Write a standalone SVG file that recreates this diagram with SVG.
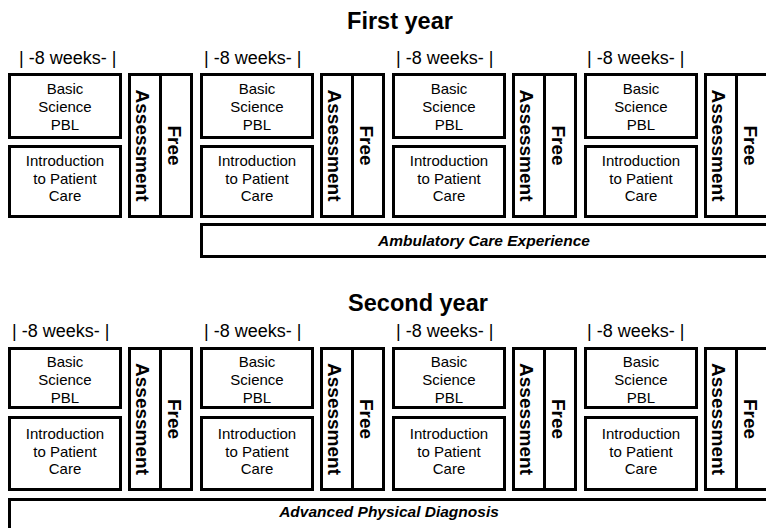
<svg xmlns="http://www.w3.org/2000/svg" width="766" height="528" viewBox="0 0 766 528">
<style>
.box{fill:#fff;stroke:#000;stroke-width:3}
.t{font-family:"Liberation Sans",Arial,Helvetica,sans-serif;fill:#000}
.c{font-size:15px;text-anchor:middle}
.v{font-size:19px;font-weight:bold;text-anchor:middle}
.wk{font-size:18px}
.title{font-size:23.5px;font-weight:bold;text-anchor:middle}
.bar{font-size:15.5px;font-weight:bold;font-style:italic;text-anchor:middle}
</style>
<rect width="766" height="528" fill="#fff"/>
<defs>
<g id="col1">
<g><rect class="box" x="9.5" y="74.5" width="111" height="63"/>
<text class="t c" x="65" y="94">Basic</text><text class="t c" x="65" y="112">Science</text><text class="t c" x="65" y="130">PBL</text></g>
<g><rect class="box" x="9.5" y="146.5" width="111" height="70"/>
<text class="t c" x="65" y="166">Introduction</text><text class="t c" x="65" y="183.5">to Patient</text><text class="t c" x="65" y="201">Care</text></g>
<g><rect class="box" x="129.5" y="74.5" width="31" height="142"/>
<text class="t v" transform="translate(135.5,145.5) rotate(90)">Assessment</text></g>
<g><rect class="box" x="160.5" y="74.5" width="31" height="142"/>
<text class="t v" transform="translate(168,145.5) rotate(90)">Free</text></g>
</g>
<g id="col2">
<g><rect class="box" x="9.5" y="348.5" width="111" height="59"/>
<text class="t c" x="65" y="367">Basic</text><text class="t c" x="65" y="385">Science</text><text class="t c" x="65" y="403">PBL</text></g>
<g><rect class="box" x="9.5" y="417.5" width="111" height="72"/>
<text class="t c" x="65" y="439">Introduction</text><text class="t c" x="65" y="457">to Patient</text><text class="t c" x="65" y="474">Care</text></g>
<g><rect class="box" x="129.5" y="348.5" width="31" height="141"/>
<text class="t v" transform="translate(135.5,419) rotate(90)">Assessment</text></g>
<g><rect class="box" x="160.5" y="348.5" width="31" height="141"/>
<text class="t v" transform="translate(168,419) rotate(90)">Free</text></g>
</g>
</defs>

<text class="t title" x="400" y="28.5">First year</text>
<text class="t title" x="418" y="311">Second year</text>

<g id="weeks">
<text class="t wk" x="19" y="64">| -8 weeks- |</text>
<text class="t wk" x="204" y="64">| -8 weeks- |</text>
<text class="t wk" x="396" y="64">| -8 weeks- |</text>
<text class="t wk" x="587" y="64">| -8 weeks- |</text>
<text class="t wk" x="12" y="337">| -8 weeks- |</text>
<text class="t wk" x="204" y="337">| -8 weeks- |</text>
<text class="t wk" x="396" y="337">| -8 weeks- |</text>
<text class="t wk" x="587" y="337">| -8 weeks- |</text>
</g>

<g id="year1-block1"><use href="#col1"/></g>
<g id="year1-block2"><use href="#col1" transform="translate(192,0)"/></g>
<g id="year1-block3"><use href="#col1" transform="translate(384,0)"/></g>
<g id="year1-block4"><use href="#col1" transform="translate(576,0)"/></g>

<g id="ambulatory">
<rect class="box" x="201.5" y="224.5" width="600" height="32"/>
<text class="t bar" x="484" y="246">Ambulatory Care Experience</text>
</g>

<g id="year2-block1"><use href="#col2"/></g>
<g id="year2-block2"><use href="#col2" transform="translate(192,0)"/></g>
<g id="year2-block3"><use href="#col2" transform="translate(384,0)"/></g>
<g id="year2-block4"><use href="#col2" transform="translate(576,0)"/></g>

<g id="physical-diagnosis">
<rect class="box" x="9.5" y="499.5" width="800" height="60"/>
<text class="t bar" x="389" y="517">Advanced Physical Diagnosis</text>
</g>

<g id="connectors"/>
</svg>
